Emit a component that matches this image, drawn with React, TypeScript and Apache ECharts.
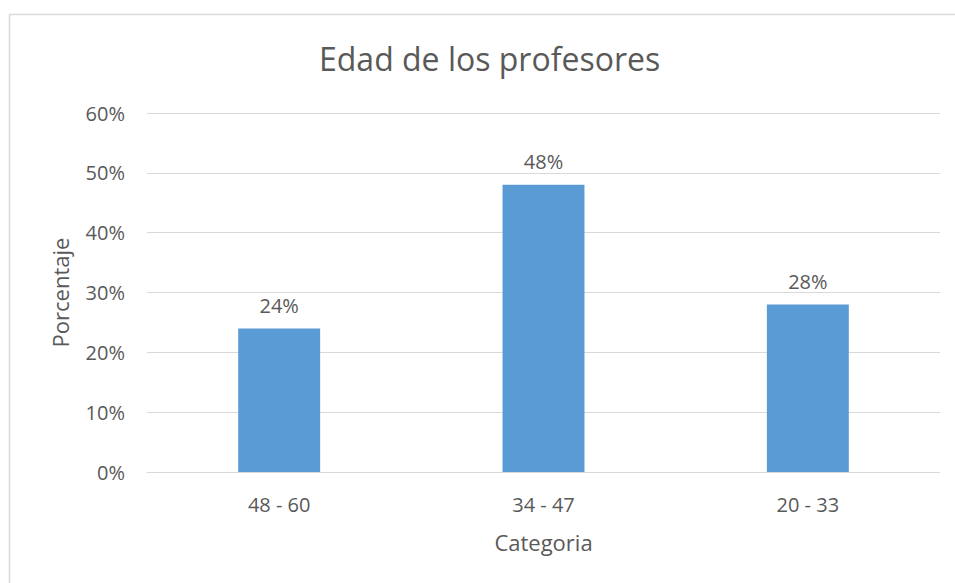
import React, { useEffect, useRef } from "react";
import * as echarts from "echarts";

const categories = ["48 - 60", "34 - 47", "20 - 33"];
const values = [0.24, 0.48, 0.28];
const titleText = "Edad de los profesores";
const yName = "Porcentaje";
const xName = "Categoria";

const FONT = "'Open Sans', 'Noto Sans', sans-serif";
const TXT = "#595959";

export default function App() {
  const ref = useRef<HTMLDivElement>(null);
  useEffect(() => {
    if (!ref.current) return;
    const chart = echarts.init(ref.current, undefined, { renderer: "svg" });
    chart.setOption({
      animation: false,
      backgroundColor: "#ffffff",
      textStyle: { fontFamily: FONT },
      title: {
        text: titleText,
        left: 314,
        top: 37,
        textStyle: { fontFamily: FONT, fontSize: 32, fontWeight: "normal", color: TXT },
      },
      graphic: [
        {
          type: "rect",
          shape: { x: 9.5, y: 14.5, width: 1000, height: 700 },
          style: { fill: "none", stroke: "#d9d9d9", lineWidth: 1.5 },
          silent: true,
        },
      ],
      grid: { left: 147, right: 15, top: 113, bottom: 111, containLabel: false },
      xAxis: {
        type: "category",
        data: categories,
        name: xName,
        nameLocation: "middle",
        nameGap: 59,
        nameTextStyle: { fontFamily: FONT, fontSize: 22, color: TXT, verticalAlign: "top" },
        axisLine: { show: true, lineStyle: { color: "#d9d9d9", width: 1 } },
        axisTick: { show: false },
        axisLabel: { fontFamily: FONT, fontSize: 20, color: TXT, margin: 22 },
      },
      yAxis: {
        type: "value",
        min: 0,
        max: 0.6,
        interval: 0.1,
        name: yName,
        nameLocation: "middle",
        nameGap: 76,
        nameTextStyle: { fontFamily: FONT, fontSize: 22, color: TXT },
        axisLine: { show: false },
        axisTick: { show: false },
        axisLabel: {
          fontFamily: FONT,
          fontSize: 20,
          color: TXT,
          margin: 22,
          formatter: (v: number) => `${Math.round(v * 100)}%`,
        },
        splitLine: { lineStyle: { color: "#d9d9d9", width: 1 } },
      },
      series: [
        {
          type: "bar",
          data: values,
          barWidth: "31%",
          itemStyle: { color: "#5B9BD5" },
          label: {
            show: true,
            position: "top",
            distance: 13,
            fontFamily: FONT,
            fontSize: 20,
            color: TXT,
            formatter: (p: any) => `${Math.round(p.value * 100)}%`,
          },
        },
      ],
    });
    return () => chart.dispose();
  }, []);
  return (
    <div
      ref={ref}
      style={{ position: "absolute", left: 0, top: 0, width: 955, height: 583 }}
    />
  );
}
